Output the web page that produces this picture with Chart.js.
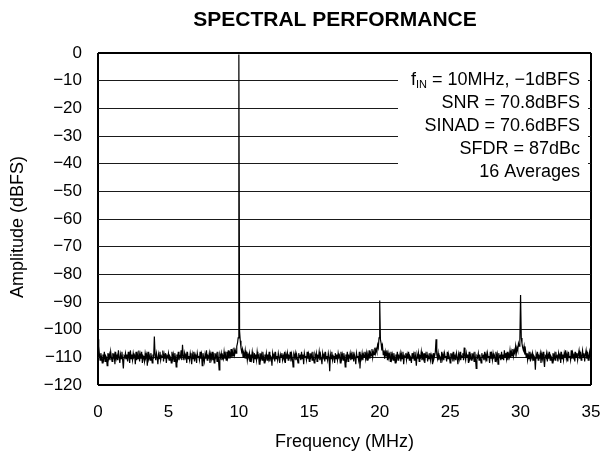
<!DOCTYPE html>
<html>
<head>
<meta charset="utf-8">
<script src="https://cdn.jsdelivr.net/npm/chart.js@4/dist/chart.umd.min.js"></script>
<style>
  html, body { margin: 0; padding: 0; background: #fff; }
  #wrap { width: 600px; height: 453px; }
</style>
</head>
<body>
<div id="wrap"><canvas id="chart" width="600" height="453"></canvas></div>
<script>
// ── Data ──────────────────────────────────────────────────
const chartTitle = "SPECTRAL PERFORMANCE";
const yTitle     = "Amplitude (dBFS)";
const binStepMHz = 0.05;   // FFT bin spacing, first bin at 0 MHz

// amplitude per bin (dBFS), 0.00 … 35.00 MHz, one row per MHz
const amplitudeDb = [
  -103.5, -106, -109, -111, -108.5, -110, -112, -109, -110.5, -108, -111.5, -109.5, -110, -113, -108.5, -110.5, -109, -111, -108, -110,
  -111.5, -108.5, -110, -109, -112.5, -108, -110.5, -109.5, -111, -107.5, -110, -112, -109, -110.5, -108, -111, -114, -109.5, -110, -108.5,
  -110.5, -109, -111.5, -108, -110, -112, -107.5, -110.5, -109, -111, -108.5, -110, -109.5, -112.5, -108, -111, -109, -110.5, -107.5, -111.5,
  -109, -110.5, -108, -112, -109.5, -110, -111.5, -108.5, -110, -109, -113, -108, -110.5, -109.5, -111, -108.5, -110, -112, -109, -110.5,
  -102.5, -109, -111, -108.5, -110, -112.5, -109, -110.5, -108, -111, -109.5, -110, -107.5, -111.5, -109, -110.5, -108.5, -112, -109.5, -110,
  -108.5, -111, -109.5, -110, -112, -108, -110.5, -109, -111.5, -108.5, -110, -113.5, -109, -110.5, -108, -111, -109.5, -110, -107.5, -111,
  -105.5, -109.5, -111, -108.5, -110, -109, -112, -108, -110.5, -109.5, -111, -108.5, -110, -112.5, -109, -110.5, -108, -111.5, -109, -110,
  -112, -108.5, -110, -109.5, -111, -108, -110.5, -109, -113, -108.5, -110, -111.5, -109, -110.5, -107.5, -111, -109.5, -110, -108.5, -112,
  -109, -110.5, -108, -111, -109.5, -112, -108.5, -110, -109, -111.5, -108, -110.5, -114.5, -109, -110, -108.5, -111, -109.5, -110.5, -108,
  -110.5, -109, -111, -108, -110, -107.5, -110.5, -108.5, -109.5, -107, -110, -108, -109.5, -106.5, -109, -107.5, -108.5, -106, -105, -103,
  -0.5, -100.5, -104, -106.5, -108, -107, -110, -108.5, -109.5, -107.5, -110.5, -108, -111, -109, -110, -108.5, -111.5, -109, -110.5, -108,
  -110, -112, -108.5, -110.5, -109, -111, -108, -110, -109.5, -112.5, -108.5, -110.5, -109, -111, -108, -110, -112, -109, -110.5, -108.5,
  -111, -109, -110.5, -108, -111.5, -109.5, -110, -113, -108.5, -110, -109, -111.5, -108, -110.5, -109.5, -111, -108.5, -110, -112, -109,
  -110, -108.5, -111, -109.5, -110.5, -108, -112, -109, -110.5, -108.5, -111, -109.5, -110, -108, -111.5, -109, -110.5, -113.5, -109, -110,
  -108.5, -111, -109, -110.5, -112, -108.5, -110, -109.5, -111, -108, -110.5, -109, -112.5, -108.5, -110, -109.5, -111, -108, -110.5, -109,
  -111.5, -108.5, -110, -109, -111, -108, -110.5, -112, -109, -110, -108.5, -111.5, -109.5, -110, -108, -111, -109, -110.5, -112.5, -108.5,
  -110, -109, -111.5, -108, -110.5, -109.5, -111, -108.5, -110, -115, -109, -110.5, -108, -111, -109.5, -110, -112, -108.5, -110.5, -109,
  -111, -108.5, -110, -109.5, -112, -108, -110.5, -109, -111, -108.5, -110, -113.5, -109, -110.5, -108, -111.5, -109.5, -110, -108.5, -111,
  -109, -110.5, -108, -111.5, -109, -110, -112.5, -108.5, -110, -109.5, -111, -108, -114, -109.5, -110.5, -108.5, -111, -109, -110, -108,
  -110.5, -108.5, -111, -109, -110, -107.5, -110.5, -108.5, -109.5, -107, -110, -108, -109, -106.5, -108.5, -107, -108, -105.5, -106.5, -103,
  -89.5, -103.5, -105, -107.5, -106, -109, -107.5, -110.5, -108, -109.5, -107.5, -111, -108.5, -110, -109, -111.5, -108, -110.5, -109, -111,
  -108.5, -110, -112, -109, -110.5, -108, -111, -109.5, -110, -108.5, -111.5, -109, -110.5, -108, -112.5, -109.5, -110, -108.5, -111, -109,
  -110.5, -108, -111, -109.5, -110, -112, -108.5, -110.5, -109, -111, -108, -110, -113, -109, -110.5, -108.5, -111.5, -109.5, -110, -108,
  -111, -109, -110.5, -108.5, -112, -109, -110, -108, -111.5, -109.5, -110.5, -108.5, -111, -109, -110, -112.5, -108.5, -110.5, -109.5, -108,
  -103.5, -109, -110.5, -108.5, -111, -109.5, -110, -112, -108, -110.5, -109, -111, -108.5, -110, -109.5, -111.5, -108, -110.5, -109, -110,
  -112, -108.5, -110, -109, -111.5, -108, -110.5, -109.5, -111, -108.5, -110, -112.5, -109, -110.5, -108, -111, -109.5, -110, -108.5, -111,
  -106.5, -109.5, -111, -108.5, -110, -109, -112, -108, -110.5, -109.5, -111, -108.5, -110, -109, -111.5, -108, -110.5, -114, -109.5, -110,
  -108.5, -111, -109, -110.5, -112, -108.5, -110, -109.5, -111, -108, -110.5, -109, -111.5, -108.5, -110, -109.5, -112, -108, -110.5, -109,
  -111, -108.5, -110, -109.5, -111.5, -108, -110.5, -109, -112.5, -108.5, -110, -109.5, -111, -108, -110.5, -109, -111, -107.5, -110, -108.5,
  -110.5, -108, -111, -109, -110, -107.5, -110, -108, -109.5, -107, -109.5, -107.5, -108.5, -106, -108.5, -106.5, -107.5, -105, -106, -103.5,
  -87.5, -103, -105, -106.5, -107.5, -106, -109, -107.5, -110, -108.5, -111, -109, -110.5, -108, -111.5, -109, -110, -108.5, -111, -109.5,
  -110, -114.5, -109, -110.5, -108, -111, -109.5, -110, -108.5, -112, -109, -110.5, -108, -111, -113.5, -109.5, -110, -108.5, -111.5, -109,
  -110.5, -108, -111, -109.5, -110, -112, -108.5, -110.5, -109, -111, -108, -110, -109.5, -111.5, -108.5, -110, -109, -112, -108, -110.5,
  -109, -111, -108.5, -110, -107.5, -110.5, -109, -111.5, -108, -110, -109.5, -111, -107.5, -110.5, -108.5, -110, -109, -111.5, -108, -110,
  -108.5, -111, -109, -107.5, -110.5, -108, -111, -109.5, -107.5, -110, -108.5, -111.5, -109, -107.5, -110.5, -108, -111, -109.5, -108, -110.5,
  -113,
];

const xRange = [0, 35];
const xStep  = 5;
const yRange = [-120, 0];
const yStep  = 10;

const noteFin = { pre: "f", sub: "IN", post: " = 10MHz, \u22121dBFS" };
const notes   = ["SNR = 70.8dBFS", "SINAD = 70.6dBFS", "SFDR = 87dBc", "16 Averages"];

// ── Styles ────────────────────────────────────────────────
const FONT  = "'Liberation Sans', Arial, Helvetica, sans-serif";
const INK   = "#000";
const GRID  = "#1a1a1a";

const points = amplitudeDb.map((y, i) => ({ x: +(i * binStepMHz).toFixed(2), y }));

const minus = v => (v < 0 ? "\u2212" + Math.abs(v) : String(v));

// ── Title, y title + note box ─────────────────────────────
const decorPlugin = {
  id: "decor",
  beforeDatasetsDraw(chart) {
    const { ctx } = chart;
    // white box behind the notes hides the grid lines there
    ctx.save();
    ctx.fillStyle = "#fff";
    ctx.fillRect(398, 66, 190, 117);
    ctx.restore();
  },
  afterDraw(chart) {
    const { ctx } = chart;
    ctx.save();
    ctx.fillStyle = INK;
    ctx.textBaseline = "middle";

    ctx.font = `bold 21px ${FONT}`;
    ctx.textAlign = "center";
    ctx.fillText(chartTitle, 335, 20);

    ctx.save();
    ctx.translate(18, 227);
    ctx.rotate(-Math.PI / 2);
    ctx.font = `18px ${FONT}`;
    ctx.fillText(yTitle, 0, 0);
    ctx.restore();

    const right = 580;
    const rowY  = [80, 103, 126, 149, 172];
    ctx.font = `18px ${FONT}`;
    ctx.textAlign = "right";
    notes.forEach((t, i) => ctx.fillText(t, right, rowY[i + 1]));

    // f_IN line with subscript
    const postW = ctx.measureText(noteFin.post).width;
    ctx.fillText(noteFin.post, right, rowY[0]);
    ctx.font = `11px ${FONT}`;
    const subW = ctx.measureText(noteFin.sub).width;
    ctx.fillText(noteFin.sub, right - postW, rowY[0] + 5);
    ctx.font = `18px ${FONT}`;
    ctx.fillText(noteFin.pre, right - postW - subW, rowY[0]);
    ctx.restore();
  },
};

new Chart(document.getElementById("chart"), {
  type: "line",
  data: {
    datasets: [{
      data: points,
      borderColor: INK,
      borderWidth: 1.2,
      pointRadius: 0,
      tension: 0,
      fill: false,
    }],
  },
  options: {
    responsive: false,
    animation: false,
    parsing: false,
    layout: { padding: { left: 0, right: 9, top: 53, bottom: 0 } },
    plugins: {
      legend: { display: false },
      tooltip: { enabled: false },
      title: { display: false },
    },
    scales: {
      x: {
        type: "linear",
        min: xRange[0], max: xRange[1],
        afterFit: s => { s.height = 68; s.paddingLeft = 0; s.paddingRight = 0; },
        ticks: { stepSize: xStep, padding: 17, color: INK, font: { family: FONT, size: 17 } },
        grid: {
          drawTicks: false,
          color: c => (c.tick.value === xRange[0] || c.tick.value === xRange[1] ? INK : "rgba(0,0,0,0)"),
          lineWidth: 2,
        },
        border: { display: false },
        title: {
          display: true, text: "Frequency (MHz)", color: INK,
          font: { family: FONT, size: 18 }, padding: { top: 0, bottom: 0 },
        },
      },
      y: {
        min: yRange[0], max: yRange[1],
        afterFit: s => { s.width = 98; },
        ticks: { stepSize: yStep, padding: 16, color: INK, callback: minus, font: { family: FONT, size: 17 } },
        grid: {
          drawTicks: false,
          color: c => (c.tick.value === yRange[0] || c.tick.value === yRange[1] ? INK : GRID),
          lineWidth: c => (c.tick.value === yRange[0] || c.tick.value === yRange[1] ? 2 : 1),
        },
        border: { display: false },
        title: { display: false },
      },
    },
  },
  plugins: [decorPlugin],
});
</script>
</body>
</html>
